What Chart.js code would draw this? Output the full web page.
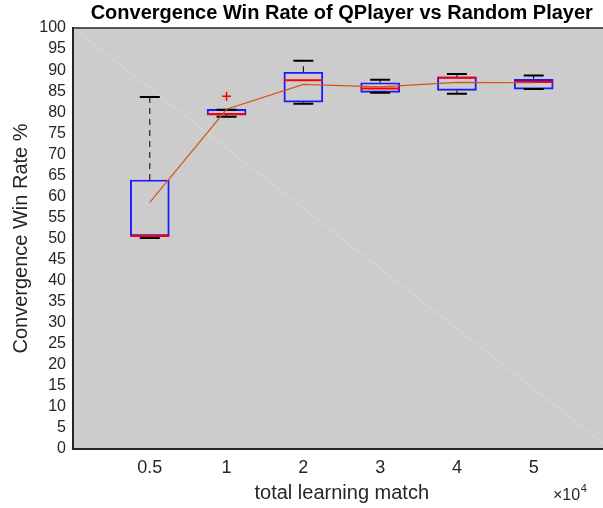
<!DOCTYPE html>
<html><head><meta charset="utf-8">
<script src="https://cdn.jsdelivr.net/npm/chart.js@4/dist/chart.umd.min.js"></script>
<style>html,body{margin:0;padding:0;overflow:hidden;background:#fff}#wrap{width:632px;height:508px}</style>
</head><body><div id="wrap"><canvas id="c" width="632" height="508"></canvas></div>
<script>
const categories = ['0.5', '1', '2', '3', '4', '5'];
const q1       = [50.6, 79.3, 82.4, 84.7, 85.2, 85.5];
const q3       = [63.9, 80.7, 89.5, 87.0, 88.4, 87.8];
const medians  = [50.6, 79.6, 87.6, 85.6, 88.2, 87.2];
const whiskLo  = [50.1, 78.9, 82.0, 84.6, 84.4, 85.5];
const whiskHi  = [83.6, 80.6, 92.2, 87.7, 89.1, 88.7];
const means    = [58.6, 80.7, 86.6, 86.0, 87.1, 87.0];
const outlierCat = [1];
const outlierVal = [83.8];
const diagX = [0, 7];
const diagY = [100, 0];
const yTicks = [0,5,10,15,20,25,30,35,40,45,50,55,60,65,70,75,80,85,90,95,100];

const FONT = "'Liberation Sans', Arial, sans-serif";
const pos = i => i + 1;

const whiskerPts = [];
categories.forEach((_, i) => {
  whiskerPts.push({x: pos(i), y: q3[i]}, {x: pos(i), y: whiskHi[i]}, {x: pos(i), y: null});
  whiskerPts.push({x: pos(i), y: q1[i]}, {x: pos(i), y: whiskLo[i]}, {x: pos(i), y: null});
});
const capPts = [];
categories.forEach((_, i) => {
  capPts.push({x: pos(i), y: whiskHi[i]}, {x: pos(i), y: whiskLo[i]});
});

const bgPlugin = {
  id: 'bg',
  beforeDraw(chart) {
    const {ctx, chartArea: a} = chart;
    ctx.save();
    ctx.fillStyle = '#cccccc';
    ctx.fillRect(a.left, a.top, a.right - a.left, a.bottom - a.top);
    ctx.restore();
  },
  afterDraw(chart) {
    const {ctx, chartArea: a} = chart;
    ctx.save();
    ctx.strokeStyle = '#262626';
    ctx.lineWidth = 1.5;
    ctx.beginPath();
    ctx.moveTo(a.left, a.top);
    ctx.lineTo(a.right, a.top);
    ctx.stroke();
    ctx.fillStyle = '#262626';
    ctx.textBaseline = 'alphabetic';
    ctx.font = '16px ' + FONT;
    const t = '\u00d710';
    ctx.fillText(t, 553, 500);
    const w = ctx.measureText(t).width;
    ctx.font = '11px ' + FONT;
    ctx.fillText('4', 553 + w + 0.5, 492);
    ctx.restore();
  }
};

new Chart(document.getElementById('c'), {
  type: 'bar',
  data: {
    datasets: [
      { type: 'line', data: diagX.map((x, i) => ({x, y: diagY[i]})),
        borderColor: 'rgba(255,255,255,0.28)', borderWidth: 1, pointRadius: 0, order: 10 },
      { type: 'bar', data: categories.map((_, i) => ({x: pos(i), y: [q1[i], q3[i]]})),
        backgroundColor: 'rgba(0,0,0,0)', borderColor: '#1a1aff', borderWidth: 1.3,
        borderSkipped: false, barThickness: 39, order: 6 },
      { type: 'line', data: whiskerPts, borderColor: '#000', borderWidth: 1,
        borderDash: [6, 5], pointRadius: 0, spanGaps: false, order: 7 },
      { type: 'line', data: capPts, showLine: false, pointStyle: 'line', pointRadius: 10,
        pointBorderColor: '#000', borderColor: '#000', pointBorderWidth: 2, order: 5 },
      { type: 'line', data: categories.map((_, i) => ({x: pos(i), y: medians[i]})), showLine: false,
        pointStyle: 'line', pointRadius: 19.5, pointBorderColor: '#ff0000', borderColor: '#ff0000',
        pointBorderWidth: 2, order: 4 },
      { type: 'line', data: categories.map((_, i) => ({x: pos(i), y: means[i]})),
        borderColor: '#D95319', borderWidth: 1.2, pointRadius: 0, order: 3 },
      { type: 'line', data: outlierCat.map((c, i) => ({x: pos(c), y: outlierVal[i]})), showLine: false,
        pointStyle: 'cross', pointRadius: 4.5, pointBorderColor: '#ff0000', borderColor: '#ff0000',
        pointBorderWidth: 1.5, order: 2 }
    ]
  },
  options: {
    responsive: false,
    animation: false,
    layout: { padding: 0 },
    plugins: {
      legend: { display: false },
      tooltip: { enabled: false },
      title: { display: true, text: 'Convergence Win Rate of QPlayer vs Random Player',
        color: '#000', font: { family: FONT, size: 20, weight: 'bold' },
        padding: { top: 1, bottom: 3 }, fullSize: false }
    },
    scales: {
      x: {
        type: 'linear', min: 0, max: 7, offset: false,
        grid: { display: false, drawTicks: false },
        border: { color: '#262626', width: 2 },
        afterBuildTicks: s => { s.ticks = categories.map((_, i) => ({value: pos(i)})); },
        afterFit: s => { s.height = 59; s.paddingLeft = 0; s.paddingRight = 0; },
        ticks: { color: '#262626', font: { family: FONT, size: 18 }, padding: 8,
          autoSkip: false, maxRotation: 0,
          callback: v => categories[v - 1] ?? '' },
        title: { display: true, text: 'total learning match', color: '#262626',
          font: { family: FONT, size: 20 }, padding: { top: 0, bottom: 3 } }
      },
      y: {
        min: 0, max: 100,
        grid: { display: false, drawTicks: false },
        border: { color: '#262626', width: 2 },
        afterBuildTicks: s => { s.ticks = yTicks.map(v => ({value: v})); },
        afterFit: s => { s.width = 73; },
        ticks: { color: '#262626', font: { family: FONT, size: 16 }, padding: 7, autoSkip: false },
        title: { display: true, text: 'Convergence Win Rate %', color: '#262626',
          font: { family: FONT, size: 20 }, padding: { top: 9, bottom: 0 } }
      }
    }
  },
  plugins: [bgPlugin]
});
</script></body></html>
